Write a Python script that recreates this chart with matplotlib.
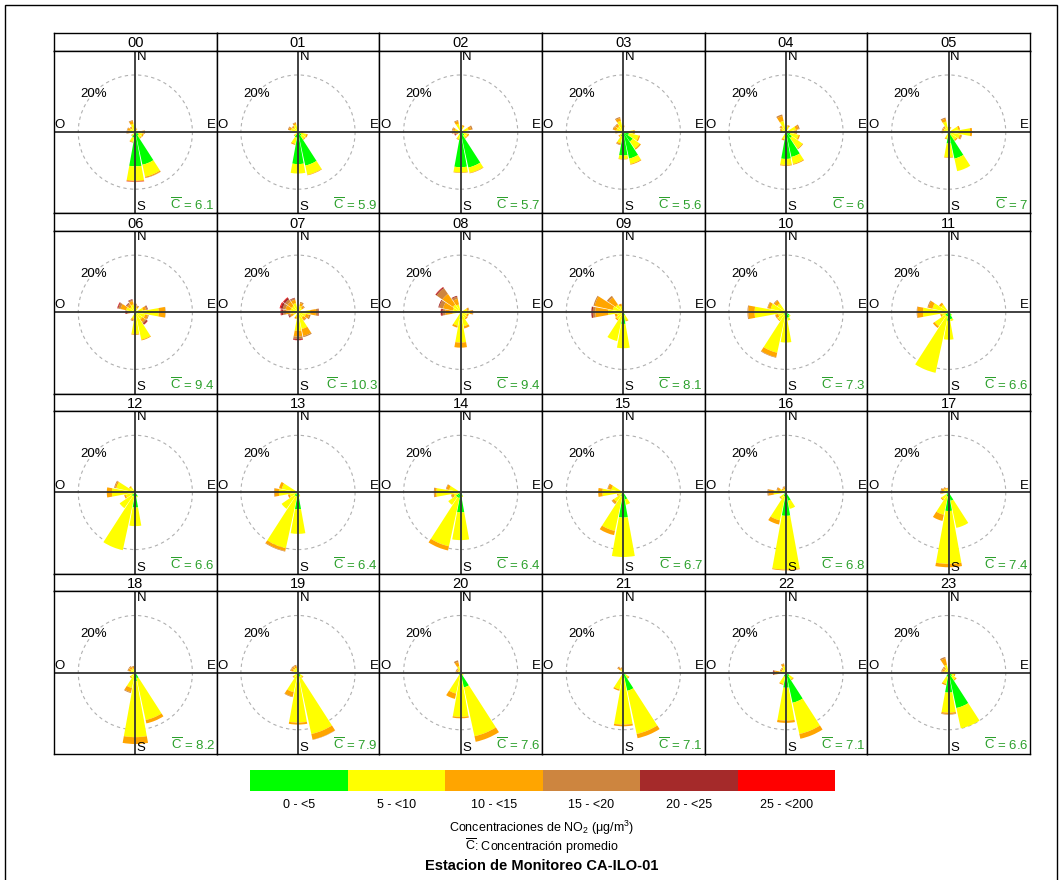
import matplotlib
matplotlib.use("Agg")
import matplotlib.pyplot as plt
from matplotlib.patches import Wedge, Circle, Rectangle

plt.rcParams['font.family'] = ['Liberation Sans', 'DejaVu Sans']
plt.rcParams['mathtext.fontset'] = 'custom'
plt.rcParams['mathtext.rm'] = 'Liberation Sans'
plt.rcParams['mathtext.it'] = 'Liberation Sans'

# === Datos ===
hours = ["%02d" % h for h in range(24)]
mean_conc = [6.1, 5.9, 5.7, 5.6, 6, 7, 9.4, 10.3, 9.4, 8.1, 7.3, 6.6,
             6.6, 6.4, 6.4, 6.7, 6.8, 7.4, 8.2, 7.9, 7.6, 7.1, 7.1, 6.6]
bin_labels = ["0 - <5", "5 - <10", "10 - <15", "15 - <20", "20 - <25", "25 - <200"]
bin_colors = ["#00FF00", "#FFFF00", "#FFA500", "#CD853F", "#A52A2A", "#FF0000"]

# frecuencia (%) por direccion y rango de concentracion
h00 = {337.5: [0.5, 2.5, 1.0, 0.3], 0: [0.5, 0.8, 0.3], 22.5: [0.4, 0.6, 0.3],
       270: [0.5, 1.5, 0.8, 0.3], 292.5: [0.5, 1.5, 0.8, 0.2], 315: [0.5, 1.2, 0.5, 0.2],
       90: [0.8, 1.5, 0.8, 0.3], 112.5: [1, 1.5, 0.5], 135: [1.5, 1, 0.3],
       157.5: [11.7, 4.3, 0.4, 0.1], 180: [12, 5, 0.3, 0.1, 0, 0.1],
       202.5: [2, 1.5, 0.3], 225: [0.5, 1, 0.3]}
h01 = {337.5: [0.5, 2.2, 0.6, 0.2], 292.5: [0.5, 2, 0.8, 0.3], 315: [0.5, 1.5, 0.5, 0.2],
       90: [0.5, 1, 0.3], 112.5: [1, 2, 0.5], 135: [1.5, 1.5, 0.3],
       157.5: [12, 3.3, 0.2], 180: [11.2, 3.3], 202.5: [2, 2.2, 0.4], 225: [0.5, 1, 0.3]}
h02 = {337.5: [0.5, 2.5, 1, 0.3], 22.5: [0.5, 1.5, 0.5], 67.5: [0.8, 2, 1, 0.5],
       112.5: [1, 1.5, 0.5], 135: [1.5, 1, 0.3], 157.5: [12.7, 1.9, 0.2],
       180: [12.3, 1.8, 0.2], 202.5: [1, 1.5, 0.3], 247.5: [0.3, 0.8, 0.5, 0.3, 0.3, 0.1],
       270: [0.5, 1.5, 0.8, 0.3], 292.5: [0.5, 1.5, 0.8, 0.3]}
h03 = {0: [0.3, 1.5, 0.5], 90: [1, 2.5, 0.5], 112.5: [2, 3.5, 0.5], 135: [4, 3, 0.5],
       157.5: [9.5, 1.9, 0.3], 180: [8.2, 1.2, 0.2], 202.5: [1.5, 2.5, 0.5, 0.2],
       225: [0.5, 1.2, 0.4], 270: [0.5, 1.5, 0.8], 292.5: [0.5, 2, 1, 0.3],
       315: [0.5, 2, 0.8, 0.3], 337.5: [0.5, 3.5, 1, 0.4]}
h04 = {22.5: [0.5, 1.5, 0.5], 67.5: [1, 2.5, 1, 0.4], 90: [0.8, 2, 0.8, 0.3],
       112.5: [1.5, 3, 0.5], 135: [2.5, 4.5, 0.3], 157.5: [8.9, 2.5, 0.3],
       180: [9.4, 2.1, 0.3], 202.5: [1, 1.5, 0.5], 270: [0.3, 1, 0.4, 0.2],
       292.5: [0.3, 1.2, 0.5, 0.2], 315: [0.5, 1.5, 0.6, 0.2], 337.5: [0.5, 3.5, 1.8, 0.5]}
h05 = {0: [0.3, 1.2, 0.3], 22.5: [0.3, 1.2, 0.3], 67.5: [0.5, 3, 0.6],
       90: [1, 6.5, 0.7], 112.5: [1, 3, 0.6, 0.2], 135: [0.8, 2.5, 0.5],
       157.5: [9.5, 4.5], 180: [4, 4.8, 0.2], 202.5: [0.8, 1.5, 0.3],
       270: [0.3, 1.5, 0.5, 0.2], 292.5: [0.3, 1.5, 0.5, 0.2], 315: [0.3, 1.5, 0.5, 0.2],
       337.5: [0.3, 3.5, 1, 0.4]}
h06 = {0: [0.3, 1.5, 0.8, 0.4], 22.5: [0.3, 1.2, 0.6, 0.3], 67.5: [0.3, 2.5, 1, 0.5, 0.2],
       90: [0.5, 7.7, 2.3, 0.1], 112.5: [0.5, 3, 1, 0.3],
       135: [0.5, 2.5, 1.2, 0.5, 0.5, 0.1], 157.5: [0.8, 9, 0.3], 180: [1, 6.6, 0.3],
       202.5: [0.3, 2, 0.6, 0.3], 270: [0.2, 1.5, 0.8, 0.5, 0.4, 0.1],
       292.5: [0.3, 3, 2, 0.8, 0.3, 0.1], 315: [0.3, 2, 1, 0.5, 0.2],
       337.5: [0.3, 2.5, 1.2, 0.5, 0.2]}
h07 = {22.5: [0.3, 2, 1, 0.4], 45: [0.3, 1.5, 0.8, 0.3], 90: [0.3, 4, 2, 0.8, 0.2],
       112.5: [0.3, 2.5, 1.2, 0.5], 135: [0.3, 2, 1, 0.3], 157.5: [0.5, 5.5, 2.5, 0.4],
       180: [0.5, 6, 2, 0.8, 0.4, 0.1], 202.5: [0.3, 1.5, 0.6],
       247.5: [0.2, 1.5, 1, 0.5, 0.3], 270: [0.2, 2.5, 1.5, 1, 0.7, 0.2],
       292.5: [0.2, 2.5, 1.8, 1, 0.8, 0.3], 315: [0.2, 2.5, 1.8, 1, 0.7, 0.2],
       337.5: [0.3, 3, 1.2, 0.5, 0.2]}
h08 = {67.5: [0.3, 2, 0.6, 0.2], 90: [0.3, 3, 0.8, 0.3], 112.5: [0.3, 2, 0.6],
       135: [0.5, 2, 0.5], 157.5: [0.5, 4.5, 0.8], 180: [2.3, 8.3, 1.8],
       202.5: [0.8, 4, 0.7], 270: [0.3, 2.5, 2.5, 1, 0.6, 0.1],
       292.5: [0.3, 2.5, 3.5, 1.4, 0.3], 315: [0.3, 3, 4.5, 2.5, 0.4, 0.1],
       337.5: [0.3, 2.5, 2, 0.8, 0.3]}
h09 = {90: [0.3, 0.8, 0.2], 157.5: [1, 2, 0.3], 180: [4.1, 8.5], 202.5: [1, 9.3],
       225: [0.5, 2.5, 0.5], 247.5: [0.3, 2, 0.8], 270: [0.3, 5, 4.5, 0.9, 0.5],
       292.5: [0.3, 3.5, 6.5, 0.4], 315: [0.3, 3, 3, 0.7], 337.5: [0.3, 2, 0.8]}
h10 = {135: [1.5, 0.5], 157.5: [2, 1], 180: [2.5, 8.1], 202.5: [1, 13.5, 1.6, 0.2],
       225: [1, 2.5, 0.3], 247.5: [0.3, 2.5, 1, 0.1], 270: [0.5, 10.5, 2.2, 0.3],
       292.5: [0.5, 5, 1, 0.2], 315: [0.3, 3.5, 1.2, 0.3]}
h11 = {135: [1.2, 0.3], 157.5: [2.5, 0.7], 180: [3, 6.6], 202.5: [1.5, 20.2],
       225: [1.5, 4.5, 0.7], 247.5: [0.5, 2, 0.5], 270: [0.5, 8.5, 2, 0.2],
       292.5: [0.3, 5.5, 1.5, 0.3], 315: [0.3, 3, 0.8]}
h12 = {157.5: [1.5, 0.3], 180: [5.3, 6.5], 202.5: [1.5, 19.2], 225: [1.5, 5.2],
       247.5: [0.5, 3, 0.5], 270: [0.5, 7.7, 1.8], 292.5: [0.3, 6.5, 0.5, 0.3],
       315: [0.3, 2, 0.4]}
h13 = {157.5: [1, 0.5], 180: [5.9, 8.6], 202.5: [1.5, 18.5, 1, 0.2], 225: [1.5, 5.5],
       247.5: [0.5, 2.5, 0.6], 270: [0.5, 6.2, 1.5, 0.2], 292.5: [0.3, 5.5, 1]}
h14 = {157.5: [1.3, 0.4], 180: [7, 9.7], 202.5: [2, 17.3, 1.5], 225: [2, 3.3],
       247.5: [0.5, 2, 0.8, 0.2], 270: [0.3, 8.2, 0.6, 0.3], 292.5: [0.3, 3.8, 1, 0.2]}
h15 = {157.5: [2.5, 1.9], 180: [8.8, 13.8], 202.5: [1.5, 12.3, 1.5], 225: [1, 3, 0.8, 0.2],
       247.5: [0.3, 1.5, 0.5], 270: [0.3, 7, 1.5], 292.5: [0.3, 4, 1.2, 0.2]}
h16 = {157.5: [3, 2.9], 180: [8.2, 18.8, 0.3], 202.5: [1.5, 8.5, 1.5], 225: [1, 1.5, 0.3],
       270: [0.3, 4, 1.8, 0.4], 292.5: [0.3, 2, 0.8, 0.3], 315: [0.3, 1, 0.5],
       337.5: [0.3, 1, 0.6, 0.3]}
h17 = {157.5: [3, 9.7], 180: [6.5, 18.5, 1.2], 202.5: [1.5, 6.5, 2.2], 225: [1, 2, 0.4],
       270: [0.3, 1.5, 0.8, 0.3], 292.5: [0.3, 1.5, 0.8, 0.3], 315: [0.3, 1.2, 0.6, 0.2],
       337.5: [0.2, 1, 0.5]}
h18 = {157.5: [2, 15, 1.2], 180: [3, 19.6, 2.4], 202.5: [1, 4.5, 1.5, 0.3],
       225: [0.5, 1.5, 0.4], 270: [0.2, 1, 0.5, 0.2], 292.5: [0.2, 1.5, 0.8, 0.3],
       315: [0.2, 1.5, 0.8, 0.3], 337.5: [0.2, 1.3, 0.6, 0.3]}
h19 = {135: [1, 1, 0.3], 157.5: [1.5, 20.5, 2, 0.1], 180: [1, 16.5, 0.7],
       202.5: [1, 6, 1.6, 0.2], 225: [0.5, 1.5, 0.3], 292.5: [0.2, 1.5, 0.8, 0.3],
       315: [0.2, 1.5, 0.8, 0.3], 337.5: [0.2, 1.5, 0.8, 0.3]}
h20 = {135: [0.8, 0.5], 157.5: [5.3, 17.5, 2], 180: [1.5, 14, 0.5], 202.5: [1, 6.5, 1.9],
       270: [0.2, 0.8, 0.5, 0.3], 292.5: [0.2, 0.8, 0.5, 0.3], 315: [0.2, 0.8, 0.5, 0.3],
       337.5: [0.3, 2, 1.5, 0.6]}
h21 = {135: [1, 1.2, 0.4], 157.5: [6.5, 15.5, 1.5], 180: [2, 16.2, 0.6],
       202.5: [1, 5, 0.5], 270: [0.2, 0.8, 0.5], 315: [0.2, 1.2, 0.8, 0.4],
       337.5: [0.2, 1, 0.5, 0.2]}
h22 = {135: [1.5, 1.5, 0.3], 157.5: [10.8, 11.2, 1.7], 180: [5.3, 11.5, 0.8],
       202.5: [1.5, 2.5, 0.4], 270: [0.3, 2, 1.5, 0.5, 0.3], 292.5: [0.3, 1.2, 0.5, 0.2],
       315: [0.3, 1.2, 0.5, 0.2], 337.5: [0.3, 2, 0.8, 0.2]}
h23 = {112.5: [0.5, 1.5, 0.4], 135: [1.5, 1.5, 0.4], 157.5: [12.7, 7.3], 180: [7, 7, 0.5, 0.2],
       202.5: [1.5, 2.5, 0.5], 270: [0.3, 1.2, 0.8, 0.3], 292.5: [0.3, 1.2, 0.8, 0.3],
       315: [0.3, 1.2, 0.8, 0.3], 337.5: [0.3, 2.5, 2.3, 0.5]}

roses = [h00, h01, h02, h03, h04, h05, h06, h07, h08, h09, h10, h11,
         h12, h13, h14, h15, h16, h17, h18, h19, h20, h21, h22, h23]

# === Figura ===
W, H = 1063, 880
fig = plt.figure(figsize=(W / 100, H / 100), dpi=100)


def add_px_axes(x, y, w, h):
    # coordenadas en pixeles desde arriba a la izquierda
    return fig.add_axes([x / W, 1 - (y + h) / H, w / W, h / H])


fig.patches.append(Rectangle((5 / W, -0.01), 1052 / W, 1 - 5 / H + 0.01,
                             transform=fig.transFigure, fill=False,
                             edgecolor="black", linewidth=1))

left, top = 54, 33.3
col_w = (1030 - 54) / 6
row_h = (754 - 33.3) / 4
strip_h = 17.4
lim = 28.5
petal_w = 20.5
cbar = r"$\overline{\mathrm{C}}$"

for i, (rose, hour, cm) in enumerate(zip(roses, hours, mean_conc)):
    r, c = divmod(i, 6)
    x0 = left + c * col_w
    y0 = top + r * row_h

    # encabezado con la hora
    sax = add_px_axes(x0, y0, col_w, strip_h)
    sax.set_xticks([])
    sax.set_yticks([])
    sax.text(0.5, 0.42, hour, ha="center", va="center", fontsize=10.5, transform=sax.transAxes)
    for sp in sax.spines.values():
        sp.set_linewidth(1)

    ax = add_px_axes(x0, y0 + strip_h, col_w, row_h - strip_h)
    ax.set_xlim(-lim, lim)
    ax.set_ylim(-lim, lim)
    ax.set_xticks([])
    ax.set_yticks([])
    for sp in ax.spines.values():
        sp.set_linewidth(1)

    ax.add_patch(Circle((0, 0), 20, fill=False, edgecolor="#b0b0b0",
                        linestyle=(0, (3, 3)), linewidth=0.8))

    for d, segs in rose.items():
        theta = 90 - d
        inner = 0
        for k, v in enumerate(segs):
            if v <= 0:
                continue
            ax.add_patch(Wedge((0, 0), inner + v, theta - petal_w / 2, theta + petal_w / 2,
                               width=v, facecolor=bin_colors[k], edgecolor="none"))
            inner += v

    ax.axhline(0, color="#333333", linewidth=1.3)
    ax.axvline(0, color="#333333", linewidth=1.3)

    ax.text(0.5, lim - 0.1, "N", ha="left", va="top", fontsize=9.5)
    ax.text(0.5, -lim + 0.1, "S", ha="left", va="bottom", fontsize=9.5)
    ax.text(-lim + 0.3, 0.3, "O", ha="left", va="bottom", fontsize=9.5)
    ax.text(lim - 0.3, 0.3, "E", ha="right", va="bottom", fontsize=9.5)
    ax.text(-14.6, 13.4, "20%", ha="center", va="center", fontsize=9.5)
    ax.text(lim - 0.6, -lim + 0.2, cbar + " = %g" % cm, ha="right", va="bottom",
            fontsize=9.5, color="#2ca02c")

# === Leyenda ===
lax = add_px_axes(250, 770, 585, 21)
lax.bar(range(len(bin_labels)), [1] * len(bin_labels), width=1.0, color=bin_colors)
lax.set_xlim(-0.5, len(bin_labels) - 0.5)
lax.set_ylim(0, 1)
lax.axis("off")
for k, lab in enumerate(bin_labels):
    lax.text(k, -0.4, lab, ha="center", va="top", fontsize=9)

fig.text(542 / W, 1 - 828 / H, "Concentraciones de NO$_2$ (μg/m$^3$)",
         ha="center", va="center", fontsize=9)
fig.text(542 / W, 1 - 846 / H, cbar + ": Concentración promedio",
         ha="center", va="center", fontsize=9)
fig.text(542 / W, 1 - 866 / H, "Estacion de Monitoreo CA-ILO-01",
         ha="center", va="center", fontsize=10.5, fontweight="bold")

fig.savefig("out.png", dpi=100)
